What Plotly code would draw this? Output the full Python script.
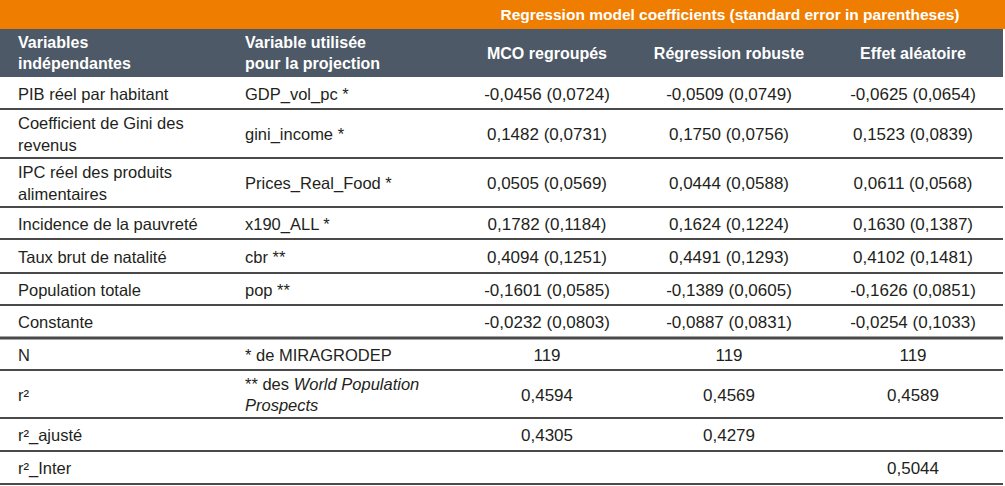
import plotly.graph_objects as go

# ---- data ----
title_text = "Regression model coefficients (standard error in parentheses)"
col_headers = ["Variables<br>indépendantes", "Variable utilisée<br>pour la projection",
               "MCO regroupés", "Régression robuste", "Effet aléatoire"]
variables = ["PIB réel par habitant", "Coefficient de Gini des<br>revenus",
             "IPC réel des produits<br>alimentaires", "Incidence de la pauvreté",
             "Taux brut de natalité", "Population totale", "Constante", "N",
             "r²", "r²_ajusté", "r²_Inter"]
projection = ["GDP_vol_pc *", "gini_income *", "Prices_Real_Food *", "x190_ALL *",
              "cbr **", "pop **", "", "* de MIRAGRODEP",
              "** des <i>World Population</i><br><i>Prospects</i>", "", ""]
mco = ["-0,0456 (0,0724)", "0,1482 (0,0731)", "0,0505 (0,0569)", "0,1782 (0,1184)",
       "0,4094 (0,1251)", "-0,1601 (0,0585)", "-0,0232 (0,0803)", "119",
       "0,4594", "0,4305", ""]
robust = ["-0,0509 (0,0749)", "0,1750 (0,0756)", "0,0444 (0,0588)", "0,1624 (0,1224)",
          "0,4491 (0,1293)", "-0,1389 (0,0605)", "-0,0887 (0,0831)", "119",
          "0,4569", "0,4279", ""]
random_eff = ["-0,0625 (0,0654)", "0,1523 (0,0839)", "0,0611 (0,0568)", "0,1630 (0,1387)",
              "0,4102 (0,1481)", "-0,1626 (0,0851)", "-0,0254 (0,1033)", "119",
              "0,4589", "", "0,5044"]

# ---- layout geometry ----
W, H = 1005, 486
orange_h = 29
header_bottom = 77
row_heights = [32, 49, 49, 32, 34, 32, 33, 32, 48, 33, 33]
col_left = [18, 245]
col_center = [547, 729, 913]
text_dy = 2.5

ORANGE = "#ef7d00"
SLATE = "#4d5966"
TEXT = "#231f20"
LINE = "#4a4a4a"
FONT = "Liberation Sans, Arial, sans-serif"
FS = 16.5
FS_NUM = 17

# row boundaries
tops = []
y = header_bottom
for h in row_heights:
    tops.append(y)
    y += h
bottoms = [t + h for t, h in zip(tops, row_heights)]
centers = [(t + b) / 2 + text_dy for t, b in zip(tops, bottoms)]

fig = go.Figure()

shapes = [
    dict(type="rect", xref="x", yref="y", x0=0, x1=W, y0=0, y1=orange_h,
         fillcolor=ORANGE, line=dict(width=0), layer="below"),
    dict(type="rect", xref="x", yref="y", x0=0, x1=W - 2, y0=orange_h, y1=header_bottom,
         fillcolor=SLATE, line=dict(width=0), layer="below"),
]
for i, b in enumerate(bottoms):
    shapes.append(dict(type="line", xref="x", yref="y", x0=0, x1=W - 2, y0=b, y1=b,
                       line=dict(color=LINE, width=3 if i == 6 else 2)))

# title in orange bar
fig.add_trace(go.Scatter(x=[730], y=[orange_h / 2 + 1.5], mode="text", text=[f"<b>{title_text}</b>"],
                         textposition="middle center",
                         textfont=dict(family=FONT, size=15.5, color="white")))

# header row
hy = (orange_h + header_bottom) / 2 + 1.5
fig.add_trace(go.Scatter(x=col_left, y=[hy, hy], mode="text",
                         text=[f"<b>{t}</b>" for t in col_headers[:2]],
                         textposition="middle right",
                         textfont=dict(family=FONT, size=16, color="white")))
fig.add_trace(go.Scatter(x=col_center, y=[hy] * 3, mode="text",
                         text=[f"<b>{t}</b>" for t in col_headers[2:]],
                         textposition="middle center",
                         textfont=dict(family=FONT, size=16, color="white")))

# body
fig.add_trace(go.Scatter(x=[col_left[0]] * len(variables), y=centers, mode="text",
                         text=variables, textposition="middle right",
                         textfont=dict(family=FONT, size=FS, color=TEXT)))
fig.add_trace(go.Scatter(x=[col_left[1]] * len(projection), y=centers, mode="text",
                         text=projection, textposition="middle right",
                         textfont=dict(family=FONT, size=FS, color=TEXT)))
for cx, vals in zip(col_center, [mco, robust, random_eff]):
    fig.add_trace(go.Scatter(x=[cx] * len(vals), y=centers, mode="text",
                             text=vals, textposition="middle center",
                             textfont=dict(family=FONT, size=FS_NUM, color=TEXT)))

fig.update_layout(
    width=W, height=H, margin=dict(l=0, r=0, t=0, b=0),
    paper_bgcolor="white", plot_bgcolor="white",
    showlegend=False, hovermode=False, shapes=shapes,
    xaxis=dict(range=[0, W], visible=False, fixedrange=True),
    yaxis=dict(range=[H, 0], visible=False, fixedrange=True),
)
fig.update_traces(cliponaxis=False)
fig.write_html("out.html", config={"displayModeBar": False},
               post_script="document.body.style.margin='0';document.body.style.padding='0';")
